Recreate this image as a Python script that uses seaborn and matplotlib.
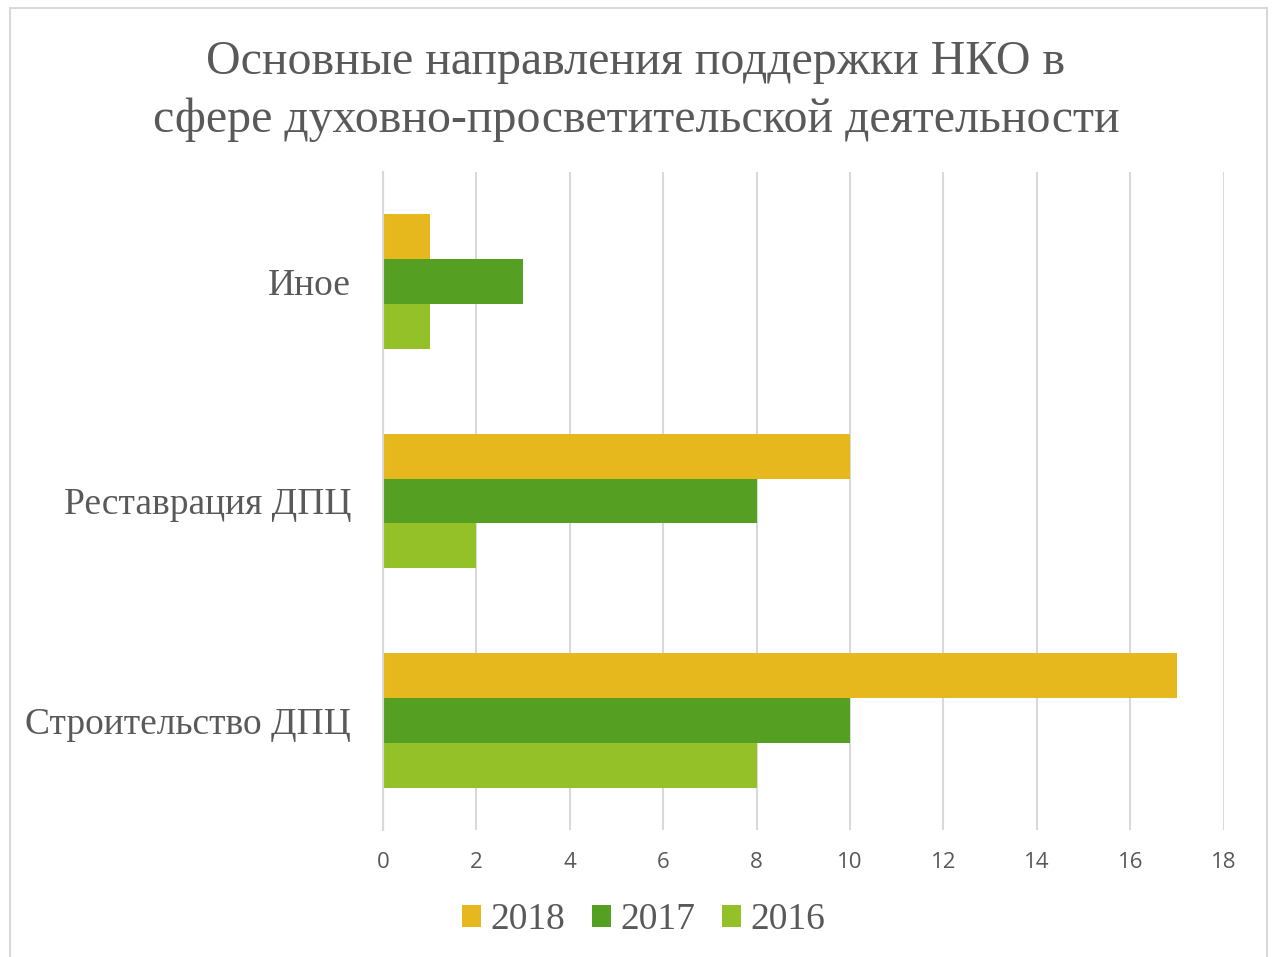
import matplotlib
matplotlib.use("Agg")
import matplotlib.pyplot as plt
from matplotlib.patches import Rectangle
import pandas as pd
import seaborn as sns

# данные
categories = ["Иное", "Реставрация ДПЦ", "Строительство ДПЦ"]
years = ["2018", "2017", "2016"]
values_2018 = [1, 10, 17]
values_2017 = [3, 8, 10]
values_2016 = [1, 2, 8]
x_ticks = [0, 2, 4, 6, 8, 10, 12, 14, 16, 18]

colors = ["#E6B81E", "#55A023", "#93C127"]
TEXT = "#595959"
GRID = "#D9D9D9"

df = pd.DataFrame({
    "category": categories * 3,
    "year": [y for y in years for _ in categories],
    "value": values_2018 + values_2017 + values_2016,
})

sns.set_theme(style="white")
plt.rcParams["font.family"] = ["Liberation Serif", "DejaVu Serif"]

fig = plt.figure(figsize=(12.72, 9.57), dpi=100)
ax = fig.add_axes([0.3011, 0.1327, 0.962 - 0.3011, 0.8203 - 0.1327])

sns.barplot(data=df, y="category", x="value", hue="year", order=categories,
            hue_order=years, palette=colors, orient="h", width=0.615,
            saturation=1, edgecolor="none", ax=ax)

ax.set_xlim(0, 18)
ax.set_ylim(2.5, -0.5)
ax.set_xticks(x_ticks)
ax.set_xticklabels([str(t) for t in x_ticks], fontfamily=["Open Sans", "DejaVu Sans"],
                   fontsize=16, color=TEXT)
ax.tick_params(axis="x", length=0, pad=16)
ax.tick_params(axis="y", length=0, pad=23, labelsize=27, labelcolor=TEXT)
ax.set_xlabel("")
ax.set_ylabel("")
ax.xaxis.grid(True, color=GRID, linewidth=1.5)
ax.set_axisbelow(True)
for s in ["top", "right", "bottom"]:
    ax.spines[s].set_visible(False)
ax.spines["left"].set_color(GRID)
ax.spines["left"].set_linewidth(1.5)

fig.suptitle("Основные направления поддержки НКО в\nсфере духовно-просветительской деятельности",
             x=0.5, y=0.958, fontsize=34.5, color=TEXT, linespacing=1.38)

handles, labels = ax.get_legend_handles_labels()
ax.legend(handles, labels, loc="center", bbox_to_anchor=(0.506, 0.039),
          bbox_transform=fig.transFigure, ncol=3, frameon=False,
          fontsize=27, labelcolor=TEXT, handlelength=0.52, handleheight=0.52,
          handletextpad=0.25, columnspacing=0.7)

fig.patches.append(Rectangle((10 / 1272, -0.01), 1257 / 1272, 1 - 8 / 957 + 0.01,
                             transform=fig.transFigure, fill=False,
                             edgecolor=GRID, linewidth=1.5))

fig.savefig("out.png", dpi=100)
